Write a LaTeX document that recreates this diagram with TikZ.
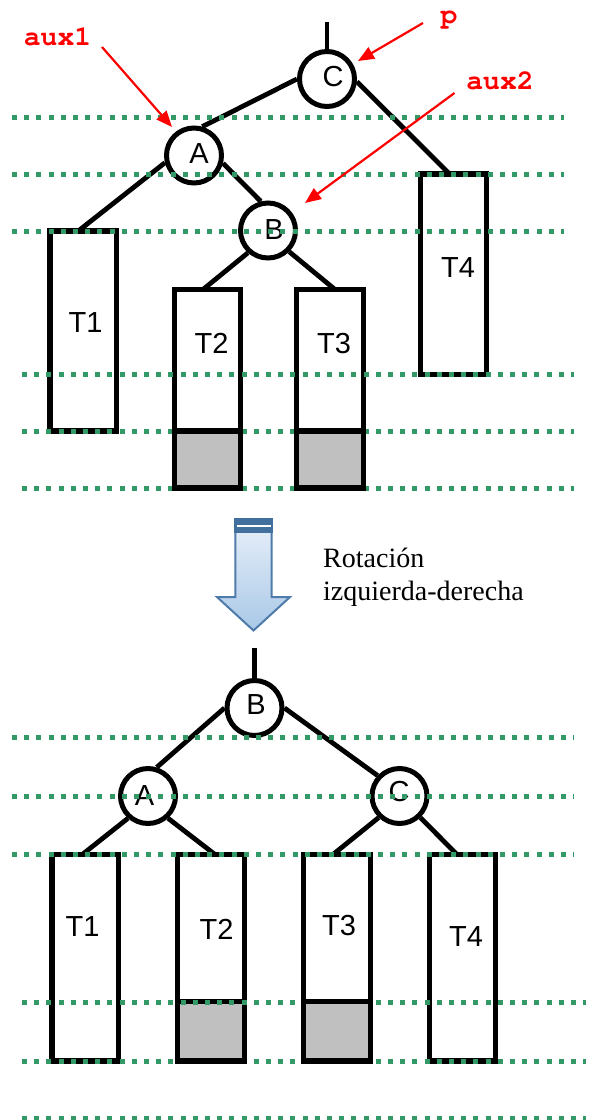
\documentclass[tikz,border=0pt]{standalone}
\usepackage{fontspec}
\setmainfont{Liberation Serif}
\newfontfamily\sansf{Liberation Sans}
\newfontfamily\monof{TeX Gyre Cursor}
\usetikzlibrary{arrows.meta,calc}
\definecolor{dotgreen}{HTML}{339966}
\definecolor{redarrow}{HTML}{FF0000}
\definecolor{arrowborder}{HTML}{4E7BAA}
\definecolor{arrowband}{HTML}{41709F}
\definecolor{arrowtop}{HTML}{E8F0FA}
\definecolor{arrowbot}{HTML}{A9C8E7}
\definecolor{graypart}{HTML}{C0C0C0}
\begin{document}
\begin{tikzpicture}[x=1bp,y=-1bp,
  circ/.style={circle, draw=black, line width=5bp, minimum size=55bp, inner sep=0pt, fill=white},
  lett/.style={inner sep=0pt, font=\sansf\fontsize{29bp}{34bp}\selectfont},
  tbox/.style={rectangle, draw=black, line width=5.2bp, minimum width=66.5bp, inner sep=0pt, outer sep=0pt},
  gbox/.style={rectangle, draw=black, fill=graypart, line width=5.2bp, minimum width=66.5bp, inner sep=0pt, outer sep=0pt, anchor=south},
  tlbl/.style={inner sep=0pt, font=\sansf\fontsize{29bp}{34bp}\selectfont},
  edge/.style={draw=black, line width=4.8bp},
  gline/.style={draw=dotgreen, line width=5bp, dash pattern=on 5bp off 7.2bp},
  redarr/.style={draw=redarrow, line width=2.2bp, -{Triangle[length=16bp,width=13bp]}},
  redlbl/.style={inner sep=0pt, text=redarrow, font=\monof\bfseries\fontsize{28bp}{32bp}\selectfont},
  rottext/.style={inner sep=0pt, align=left, font=\fontsize{28bp}{32.5bp}\selectfont}
]
\useasboundingbox (0,0) rectangle (595,1120);

% ---------------- top tree ----------------
\node[tbox, minimum height=200bp] (T1a) at (83.25,331) {};
\node[tbox, minimum height=198.5bp] (T2a) at (207.5,388.75) {};
\node[tbox, minimum height=198.5bp] (T3a) at (330,388.75) {};
\node[tbox, minimum height=200.5bp] (T4a) at (453.5,274.25) {};

\node[circ] (Ca) at (327,79) {};
\node[circ] (Aa) at (194,155.5) {};
\node[circ] (Ba) at (268,230.5) {};
\coordinate (Ctop) at (327,22);

\draw[edge] (Ctop) -- (Ca.north);
\draw[edge] (Ca.180) -- (Aa.74);
\draw[edge] (Ca.-5) -- ([xshift=-4bp]T4a.north);
\draw[edge] (Aa.194) -- ([xshift=-5bp]T1a.north);
\draw[edge] (Aa.-15) -- (Ba.104);
\draw[edge] (Ba.228) -- ([xshift=-4.5bp]T2a.north);
\draw[edge] (Ba.-45) -- ([xshift=5bp]T3a.north);

\node[lett] (CaL) at (333,77) {C};
\node[lett] (AaL) at (199,154) {A};
\node[lett] (BaL) at (274,229.5) {B};

\node[tlbl] (T1aL) at (85.5,322.5) {T1};
\node[tlbl] (T2aL) at (211.5,343.5) {T2};
\node[tlbl] (T3aL) at (334,343.5) {T3};
\node[tlbl] (T4aL) at (458,267.5) {T4};

% ---------------- bottom tree ----------------
\node[tbox, minimum height=206.5bp] (T1b) at (85.3,957.75) {};
\node[tbox, minimum height=206.5bp] (T2b) at (211,957.75) {};
\node[tbox, minimum height=206.5bp] (T3b) at (337,957.75) {};
\node[tbox, minimum height=206.5bp] (T4b) at (462.5,957.75) {};
\node[gbox, minimum height=59.5bp] (T2bg) at (T2b.south) {};

\node[circ] (Bb) at (254.5,708) {};
\node[circ] (Ab) at (148,796) {};
\node[circ] (Cb) at (399.5,796) {};
\coordinate (Btop) at (254.5,648);

\draw[edge] (Btop) -- (Bb.north);
\draw[edge] (Bb.180) -- (Ab.73);
\draw[edge] (Bb.0) -- (Cb.137);
\draw[edge] (Ab.228) -- ([xshift=-3bp]T1b.north);
\draw[edge] (Ab.-48) -- ([xshift=4bp]T2b.north);
\draw[edge] (Cb.226) -- ([xshift=-4bp]T3b.north);
\draw[edge] (Cb.-46) -- ([xshift=-5.5bp]T4b.north);

\node[lett] (BbL) at (256,705) {B};
\node[lett] (AbL) at (144.5,796) {A};
\node[lett] (CbL) at (399,792) {C};

\node[tlbl] (T1bL) at (82.5,926.5) {T1};
\node[tlbl] (T2bL) at (216.5,929.5) {T2};
\node[tlbl] (T3bL) at (339,926) {T3};
\node[tlbl] (T4bL) at (466,936.5) {T4};

% ---------------- green dotted levels ----------------
\draw[gline] (12,117) -- (564,117);
\draw[gline] (12,174) -- (564,174);
\draw[gline] (12,231) -- (564,231);
\draw[gline] (22,374) -- (574,374);
\draw[gline] (22,431) -- (574,431);
\draw[gline] (22,488) -- (574,488);
\draw[gline] (12,737) -- (574,737);
\draw[gline] (12,796) -- (574,796);
\draw[gline] (12,854) -- (574,854);
\draw[gline] (22,1002) -- (586,1002);
\draw[gline] (22,1061) -- (586,1061);
\draw[gline] (22,1118) -- (586,1118);

% gray parts lying over the dotted lines
\node[gbox, minimum height=57bp] (T2ag) at (T2a.south) {};
\node[gbox, minimum height=57bp] (T3ag) at (T3a.south) {};
\node[gbox, minimum height=59.5bp] (T3bg) at (T3b.south) {};
\draw[black, line width=5.2bp, line cap=rect] (T2bg.south west) -- (T2bg.south east);

% ---------------- red pointers ----------------
\node[redlbl, anchor=base] (aux1) at (57.5,45) {aux1};
\node[redlbl, anchor=base] (pl) at (449,23.5) {p};
\node[redlbl, anchor=base] (aux2) at (500,89) {aux2};
\coordinate (r1s) at (102,47);
\coordinate (r1e) at (172,127);
\coordinate (r2s) at (423,23);
\coordinate (r2e) at (358,61);
\coordinate (r3s) at (454.5,93);
\coordinate (r3e) at (305,203);
\draw[redarr] (r1s) -- (r1e);
\draw[redarr] (r2s) -- (r2e);
\draw[redarr] (r3s) -- (r3e);

% ---------------- block arrow ----------------
\shade[top color=arrowtop, bottom color=arrowbot, draw=arrowborder, line width=2bp, line join=miter]
  (235.3,519.3) -- (271.7,519.3) -- (271.7,597) -- (290,597) -- (253.5,630.5)
  -- (217,597) -- (235.3,597) -- cycle;
\fill[arrowband] (234.3,518.3) rectangle (272.7,533);
\draw[white, line width=1.4bp] (236.5,526) -- (270.5,526);

\node[rottext, anchor=base west] (rot) at (323,600) {Rotación\\izquierda-derecha};
\end{tikzpicture}
\end{document}
